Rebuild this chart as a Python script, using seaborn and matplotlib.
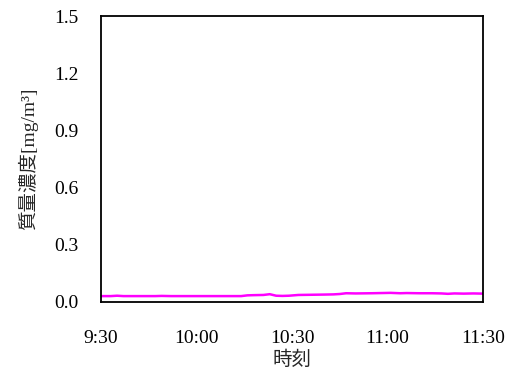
import pandas as pd
import matplotlib
matplotlib.use("Agg")
import matplotlib.pyplot as plt
import seaborn as sns
from matplotlib.ticker import MultipleLocator

# 経過時間[分] (9:30 起点) と質量濃度 [mg/m3]
minutes = [0, 3, 5, 7, 12, 17, 19, 22, 30, 38, 44, 46, 48, 51, 53, 55, 57, 59, 62,
           66, 70, 73, 75, 77, 80, 85, 88, 91, 94, 96, 100, 104, 107, 109, 111, 114, 117, 120]
conc = [0.030, 0.030, 0.032, 0.030, 0.030, 0.030, 0.031, 0.030, 0.030, 0.030, 0.030,
        0.034, 0.035, 0.036, 0.040, 0.032, 0.031, 0.032, 0.036, 0.037, 0.038, 0.039,
        0.041, 0.045, 0.044, 0.045, 0.046, 0.047, 0.045, 0.046, 0.045, 0.045, 0.044,
        0.042, 0.044, 0.043, 0.044, 0.043]
tick_labels = ["9:30", "10:00", "10:30", "11:00", "11:30"]

df = pd.DataFrame({"時刻": minutes, "濃度": conc})

sns.set_style("white")
plt.rcParams["font.family"] = ["Liberation Serif", "Noto Sans CJK JP", "DejaVu Sans"]

fig = plt.figure(figsize=(5.11, 3.74), dpi=100)
ax = fig.add_axes([0.198, 0.193, 0.747, 0.764])

sns.lineplot(data=df, x="時刻", y="濃度", color="#ff00ff", linewidth=1.8, ax=ax)

ax.set_xlim(0, 120)
ax.set_ylim(0, 1.5)
ax.set_xticks([0, 30, 60, 90, 120])
ax.set_xticklabels(tick_labels)
ax.xaxis.set_minor_locator(MultipleLocator(15))
ax.set_yticks([0, 0.3, 0.6, 0.9, 1.2, 1.5])
ax.set_yticklabels([f"{v:.1f}" for v in [0, 0.3, 0.6, 0.9, 1.2, 1.5]])

ax.tick_params(axis="both", which="both", direction="in", length=5, width=1,
               color="#444444", labelsize=14, labelcolor="black")
ax.tick_params(axis="x", which="major", pad=20)
ax.tick_params(axis="y", which="major", pad=16)
ax.tick_params(axis="x", which="minor", length=5)

for s in ax.spines.values():
    s.set_color("black")
    s.set_linewidth(1.3)

ax.set_xlabel("時刻", fontsize=14, labelpad=3)
ax.set_ylabel("質量濃度[mg/m³]", fontsize=14, labelpad=12)
ax.grid(False)

fig.savefig("out.png", dpi=100)
